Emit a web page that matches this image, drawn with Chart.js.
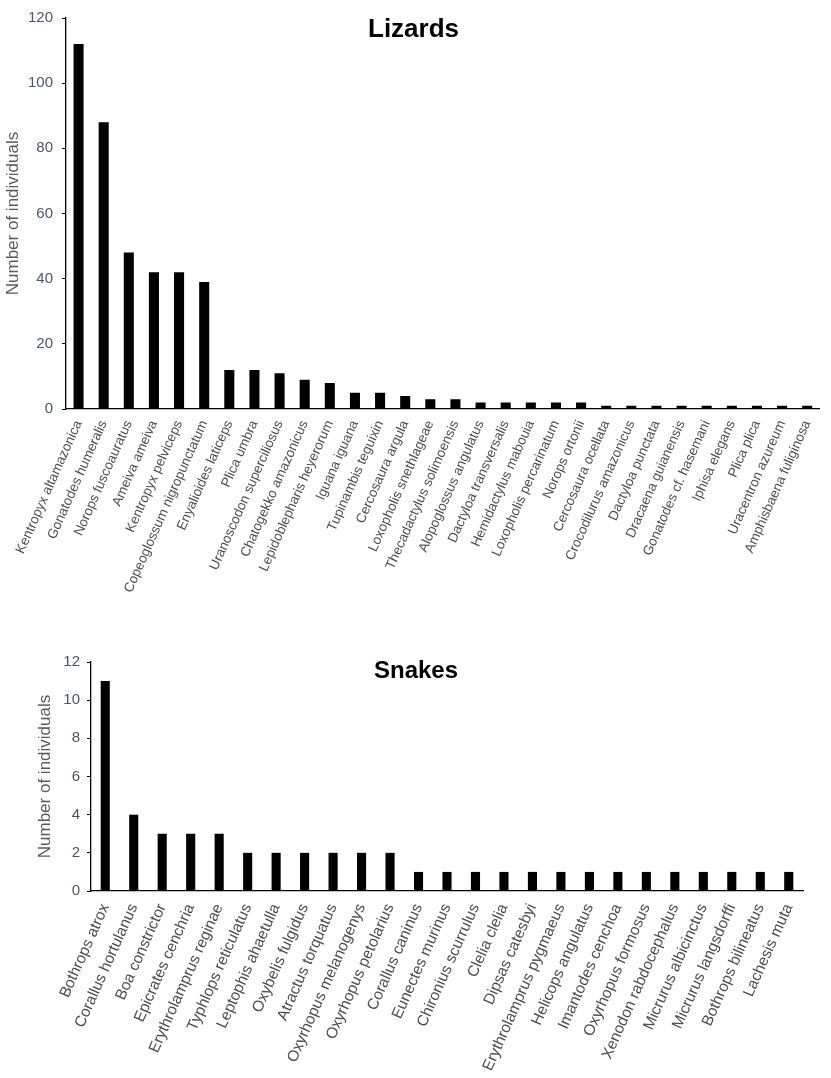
<!DOCTYPE html>
<html>
<head>
<meta charset="utf-8">
<script src="https://cdn.jsdelivr.net/npm/chart.js@4"></script>
<style>
  body { margin: 0; background: #fff; width: 831px; height: 1078px; position: relative; overflow: hidden; }
  .box { position: absolute; left: 0; width: 831px; }
  .title { position: absolute; font-family: "Liberation Sans", Arial, sans-serif; font-weight: bold; color: #000; }
</style>
</head>
<body>
<div class="box" style="top:0;height:640px"><canvas id="lizardChart"></canvas></div>
<div class="box" style="top:640px;height:438px"><canvas id="snakeChart"></canvas></div>
<div class="title" style="left:368px;top:13px;font-size:26px">Lizards</div>
<div class="title" style="left:374px;top:656px;font-size:24px">Snakes</div>
<script>
const lizardSpecies = [
    'Kentropyx altamazonica', 'Gonatodes humeralis', 'Norops fuscoauratus', 'Ameiva ameiva',
    'Kentropyx pelviceps', 'Copeoglossum nigropunctatum', 'Enyalioides laticeps', 'Plica umbra',
    'Uranoscodon superciliosus', 'Chatogekko amazonicus', 'Lepidoblepharis heyerorum', 'Iguana iguana',
    'Tupinambis teguixin', 'Cercosaura argula', 'Loxopholis snethlageae', 'Thecadactylus solimoensis',
    'Alopoglossus angulatus', 'Dactyloa transversalis', 'Hemidactylus mabouia', 'Loxopholis percarinatum',
    'Norops ortonii', 'Cercosaura ocellata', 'Crocodilurus amazonicus', 'Dactyloa punctata',
    'Dracaena guianensis', 'Gonatodes cf. hasemani', 'Iphisa elegans', 'Plica plica',
    'Uracentron azureum', 'Amphisbaena fuliginosa'
];
const lizardCounts = [112, 88, 48, 42, 42, 39, 12, 12, 11, 9, 8, 5, 5, 4, 3, 3, 2, 2, 2, 2, 2, 1, 1, 1, 1, 1, 1, 1, 1, 1];

const snakeSpecies = [
    'Bothrops atrox', 'Corallus hortulanus', 'Boa constrictor', 'Epicrates cenchria',
    'Erythrolamprus reginae', 'Typhlops reticulatus', 'Leptophis ahaetulla', 'Oxybelis fulgidus',
    'Atractus torquatus', 'Oxyrhopus melanogenys', 'Oxyrhopus petolarius', 'Corallus caninus',
    'Eunectes murinus', 'Chironius scurrulus', 'Clelia clelia', 'Dipsas catesbyi',
    'Erythrolamprus pygmaeus', 'Helicops angulatus', 'Imantodes cenchoa', 'Oxyrhopus formosus',
    'Xenodon rabdocephalus', 'Micrurus albicinctus', 'Micrurus langsdorffi', 'Bothrops bilineatus',
    'Lachesis muta'
];
const snakeCounts = [11, 4, 3, 3, 3, 2, 2, 2, 2, 2, 2, 1, 1, 1, 1, 1, 1, 1, 1, 1, 1, 1, 1, 1, 1];

const lizardTicks = { max: 120, step: 20 };
const snakeTicks = { max: 12, step: 2 };

Chart.defaults.font.family = '"Liberation Sans", Arial, sans-serif';
Chart.defaults.animation = false;

function makeChart(id, labels, values, o) {
    return new Chart(document.getElementById(id).getContext('2d'), {
        type: 'bar',
        data: {
            labels: labels,
            datasets: [{
                data: values,
                backgroundColor: '#000',
                borderWidth: 0,
                barPercentage: o.barPct,
                categoryPercentage: 1
            }]
        },
        options: {
            responsive: true,
            maintainAspectRatio: false,
            layout: { padding: { top: o.top, right: o.right, left: 0, bottom: 0 } },
            plugins: { legend: { display: false }, tooltip: { enabled: false } },
            scales: {
                x: {
                    afterFit: s => { s.height = o.xHeight; },
                    grid: { display: false, drawTicks: false },
                    border: { display: true, color: '#000', width: 1.3 },
                    ticks: {
                        autoSkip: false, minRotation: 66, maxRotation: 66, padding: o.xPad,
                        color: '#4d4d4d', font: { size: o.xFont }
                    }
                },
                y: {
                    min: 0, max: o.ticks.max,
                    afterFit: s => { s.width = o.yWidth; },
                    grid: { drawOnChartArea: false, drawTicks: true, tickLength: 4, color: '#000' },
                    border: { display: true, color: '#000', width: 1.3 },
                    ticks: {
                        stepSize: o.ticks.step, padding: o.tickPad,
                        color: '#4b556b', font: { size: o.yFont }
                    },
                    title: {
                        display: true, text: 'Number of individuals', color: '#5a5a5a',
                        font: { size: 17 }, padding: { top: o.titlePad, bottom: 0 }
                    }
                }
            }
        }
    });
}

makeChart('lizardChart', lizardSpecies, lizardCounts, {
    ticks: lizardTicks, barPct: 0.4, top: 15, right: 0, xHeight: 231,
    yWidth: 66, tickPad: 9, titlePad: 3, xFont: 13.5, xPad: 9, yFont: 15
});

makeChart('snakeChart', snakeSpecies, snakeCounts, {
    ticks: snakeTicks, barPct: 0.32, top: 22, right: 28, xHeight: 187,
    yWidth: 91, tickPad: 7, titlePad: 35, xFont: 15.5, xPad: 10, yFont: 15
});
</script>
</body>
</html>
